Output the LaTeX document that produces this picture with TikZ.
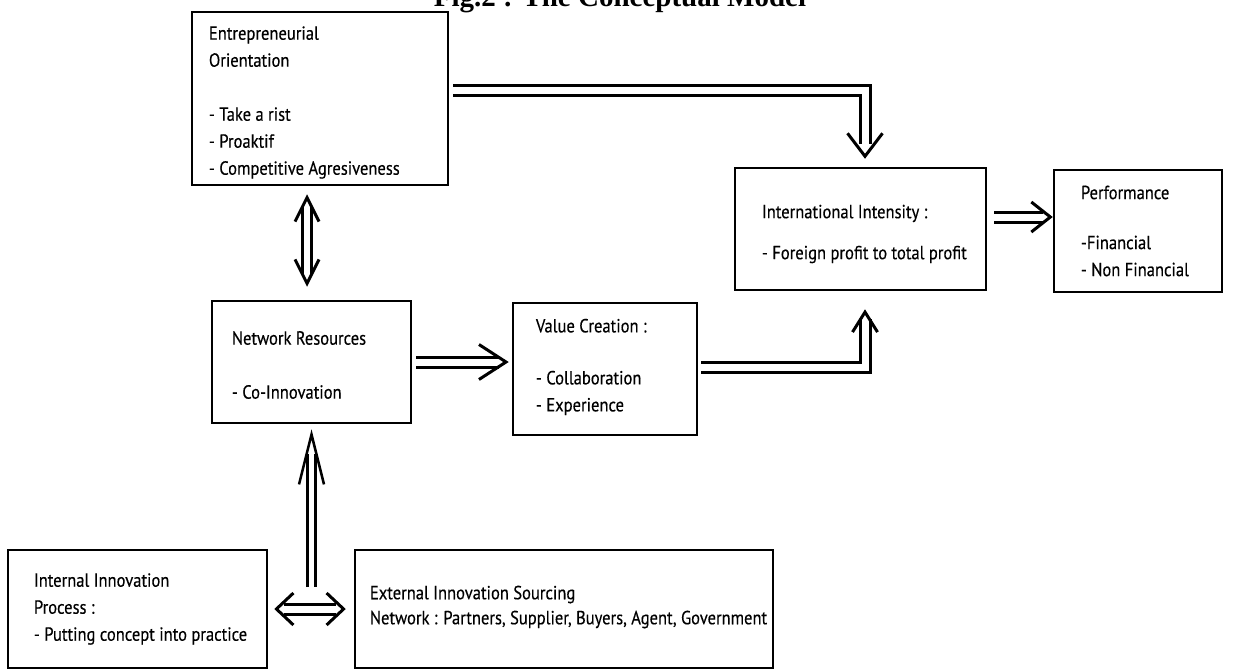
\documentclass[tikz,border=0pt]{standalone}
\usepackage{fontspec}
\setmainfont{PT Sans}[FakeStretch=0.87, FakeBold=0.3]
\newfontfamily\titlefont{Liberation Serif}
\usetikzlibrary{arrows.meta,calc}
\begin{document}
\begin{tikzpicture}[x=1pt,y=-1pt,
  box/.style={draw, line width=2.5pt, inner sep=0pt},
  txt/.style={inner sep=0pt, align=left, anchor=west, font=\fontsize{19}{27}\selectfont},
  shaft/.style={double, double distance=7pt, line width=3pt},
  thinshaft/.style={double, double distance=5.5pt, line width=2.5pt},
  tipl/.style={white, line width=1pt},
]
\fill[white] (0,0) rectangle (1234,670);
\useasboundingbox (0,0) rectangle (1234,670);
\clip (0,0) rectangle (1234,670);

% title
\node[font=\titlefont\bfseries\fontsize{29}{30}\selectfont, anchor=base, inner sep=0pt] (title) at (620,6) {Fig.2 : The Conceptual Model};

% boxes
\node[box, minimum width=256pt, minimum height=173pt] (eo)   at (320,98.5) {};
\node[box, minimum width=251pt, minimum height=122pt] (intl) at (860.5,229) {};
\node[box, minimum width=168pt, minimum height=122pt] (perf) at (1138,231) {};
\node[box, minimum width=199pt, minimum height=122pt] (nr)   at (311.5,362) {};
\node[box, minimum width=184pt, minimum height=132pt] (vc)   at (605,369) {};
\node[box, minimum width=259pt, minimum height=118pt] (iip)  at (137.5,609) {};
\node[box, minimum width=418pt, minimum height=118pt] (ext)  at (564,609) {};

% texts
\node[txt] (eot) at ([xshift=18pt,yshift=-4pt]eo.west) {Entrepreneurial\\Orientation\\[27pt]- Take a rist\\- Proaktif\\- Competitive Agresiveness};
\node[txt] (intlt) at ([xshift=28pt,yshift=-5pt]intl.west) {International Intensity :\\[14pt]- Foreign profit to total profit};
\node[txt] (perft) at ([xshift=28pt]perf.west) {Performance\\[23pt]-Financial\\- Non Financial};
\node[txt] (nrt) at ([xshift=21pt,yshift=-3pt]nr.west) {Network Resources\\[27pt]- Co-Innovation};
\node[txt] (vct) at ([xshift=24pt,yshift=2pt]vc.west) {Value Creation :\\[25pt]- Collaboration\\- Experience};
\node[txt] (iipt) at ([xshift=27pt]iip.west) {Internal Innovation\\Process :\\- Putting concept into practice};
\node[txt] (extt) at ([xshift=16pt,yshift=2pt]ext.west) {External Innovation Sourcing\\[-2pt]Network : Partners, Supplier, Buyers, Agent, Government};

% connectors
% EO -> International Intensity
\draw[shaft, shorten >=23pt] ([xshift=4pt,yshift=8.5pt]eo.east) -| ([xshift=4.5pt]intl.north);
\draw[tipl, shorten >=8pt, -{Straight Barb[black, length=23pt, width=35pt, line width=3pt]}] ([xshift=4pt,yshift=8.5pt]eo.east) -| ([xshift=4.5pt]intl.north);

% International Intensity -> Performance
\draw[shaft, shorten >=17pt] ([xshift=7pt,yshift=12pt]intl.east) -- ([xshift=7pt,yshift=12pt]intl.east -| perf.west);
\draw[tipl, shorten >=7pt, -{Straight Barb[black, length=19pt, width=30pt, line width=3pt]}] ([xshift=7pt,yshift=12pt]intl.east) -- ([xshift=7pt,yshift=12pt]intl.east -| perf.west);

% EO <-> Network Resources
\draw[shaft, double distance=6pt, shorten <=25pt, shorten >=20pt] ([xshift=-4.5pt]nr.north) -- ([xshift=-4.5pt]nr.north |- eo.south);
\draw[tipl, shorten <=13pt, shorten >=8pt, {Straight Barb[black, length=24pt, width=24pt, line width=3pt]}-{Straight Barb[black, length=24pt, width=24pt, line width=3pt]}] ([xshift=-4.5pt]nr.north) -- ([xshift=-4.5pt]nr.north |- eo.south);

% Network Resources -> Value Creation
\draw[shaft, shorten >=13pt] ([xshift=4pt]nr.east) -- (nr.east -| vc.west);
\draw[tipl, shorten >=3pt, -{Straight Barb[black, length=27pt, width=35pt, line width=3pt]}] ([xshift=4pt]nr.east) -- (nr.east -| vc.west);

% Value Creation -> International Intensity
\draw[shaft, shorten >=28pt] ([xshift=3pt,yshift=2pt]vc.east) -| ([xshift=4.5pt]intl.south);
\draw[tipl, shorten >=18pt, -{Straight Barb[black, length=20pt, width=25pt, line width=3pt]}] ([xshift=3pt,yshift=2pt]vc.east) -| ([xshift=4.5pt]intl.south);

% bottom: innovation -> Network Resources
\coordinate (junc) at (311.5,587);
\draw[thinshaft, shorten >=30pt] (junc) -- (junc |- nr.south);
\draw[tipl, shorten >=5pt, -{Straight Barb[black, length=50pt, width=25pt, line width=2.5pt]}] (junc) -- (junc |- nr.south);

% Internal <-> External
\draw[shaft, shorten <=16pt, shorten >=18pt] (iip.east) -- (iip.east -| ext.west);
\draw[tipl, shorten <=6pt, shorten >=8pt, {Straight Barb[black, length=17pt, width=32pt, line width=3pt]}-{Straight Barb[black, length=17pt, width=32pt, line width=3pt]}] (iip.east) -- (iip.east -| ext.west);
\end{tikzpicture}
\end{document}
